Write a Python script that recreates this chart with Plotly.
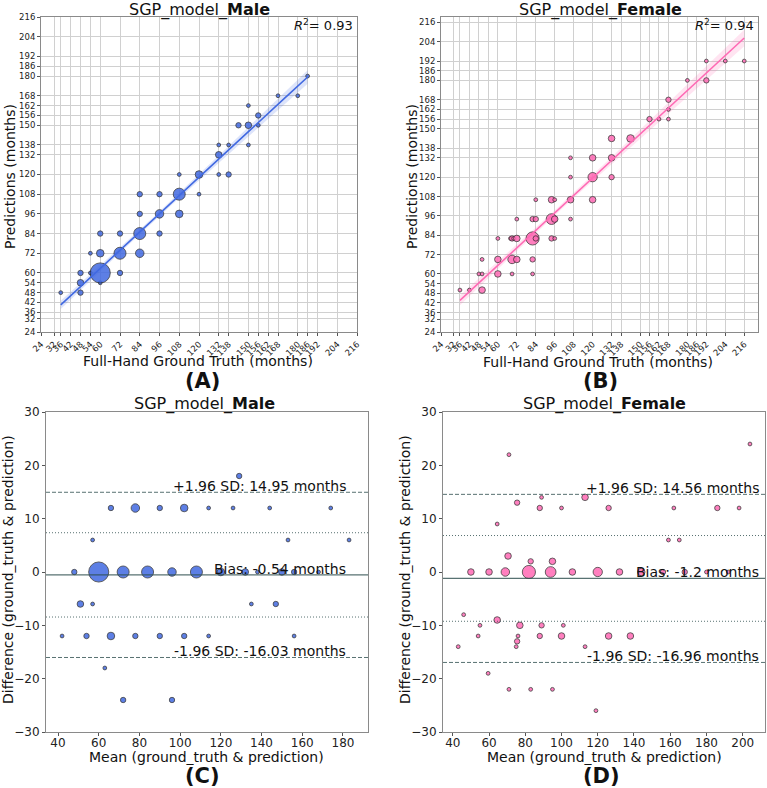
import numpy as np
import plotly.graph_objects as go

# ---------------- data ----------------
ticks_gp = [24, 32, 36, 42, 48, 54, 60, 72, 84, 96, 108, 120, 132, 138, 150, 156,
            162, 168, 180, 186, 192, 204, 216]

# Male: ground truth, prediction, count
male_gt = [36, 48, 48, 48, 54, 54, 60, 60, 60, 60, 72, 72, 72, 84, 84, 84, 84, 96, 96, 96,
           108, 108, 108, 120, 120, 132, 132, 132, 138, 138, 144, 150, 150, 150, 156, 156,
           168, 180, 186]
male_pred = [48, 48, 54, 60, 60, 72, 54, 60, 72, 84, 60, 72, 84, 72, 84, 96, 108, 84, 96, 108,
             96, 108, 120, 108, 120, 120, 132, 138, 120, 138, 150, 138, 150, 162, 150, 156,
             168, 168, 180]
male_n = [1, 2, 3, 2, 1, 1, 1, 28, 4, 2, 2, 10, 2, 5, 10, 2, 2, 2, 5, 2,
          4, 10, 1, 1, 4, 1, 3, 1, 2, 1, 2, 1, 3, 1, 1, 2,
          1, 1, 1]

# Female: ground truth, prediction, count
female_gt = [36, 42, 50, 48, 50, 60, 69, 82, 50, 60, 69, 72, 82, 60, 68, 69, 70, 72, 82, 84,
             94, 96, 72, 82, 84, 94, 96, 106, 84, 94, 96, 106, 120, 106, 120, 132, 106, 120,
             132, 132, 144, 156, 162, 168, 168, 168, 180, 192, 192, 204, 216]
female_pred = [50, 50, 50, 60, 60, 60, 60, 60, 69, 69, 69, 69, 69, 82, 82, 82, 82, 82, 82, 82,
               82, 82, 94, 94, 94, 94, 94, 94, 106, 106, 106, 106, 106, 120, 120, 120, 132, 132,
               132, 144, 144, 156, 156, 156, 162, 168, 180, 180, 192, 192, 192]
female_n = [1, 1, 3, 1, 1, 3, 1, 1, 1, 3, 5, 3, 2, 1, 1, 2, 1, 3, 12, 2,
            2, 1, 1, 2, 2, 8, 3, 1, 1, 3, 1, 3, 3, 1, 6, 2, 1, 3,
            3, 3, 4, 2, 1, 1, 1, 2, 1, 2, 1, 1, 1]

r2_values = {"Male": 0.93, "Female": 0.94}
# Bland-Altman statistics (bias, +1.96 SD, -1.96 SD)
male_ba = (-0.54, 14.95, -16.03)
female_ba = (-1.2, 14.56, -16.96)

MALE_COLOR = "#4169E1"
FEMALE_COLOR = "#FF69B4"
LINE_GREY = "#2F4F4F"
FONT = "DejaVu Sans"
W, H = 767, 788

fig = go.Figure()


def px2fx(px):
    return px / W


def px2fy(py):
    return 1 - py / H


def bubble_size(n):
    return 3.8 * np.sqrt(np.asarray(n, dtype=float))


def add_scatter_panel(gt, pred, n, color, xa, ya):
    gt = np.asarray(gt, float)
    pred = np.asarray(pred, float)
    n = np.asarray(n, int)
    xr = np.repeat(gt, n)
    yr = np.repeat(pred, n)
    slope, icpt = np.polyfit(xr, yr, 1)
    xs = np.linspace(gt.min(), gt.max(), 100)
    ys = icpt + slope * xs
    N = len(xr)
    resid = yr - (icpt + slope * xr)
    s = np.sqrt(np.sum(resid ** 2) / (N - 2))
    sxx = np.sum((xr - xr.mean()) ** 2)
    se = s * np.sqrt(1 / N + (xs - xr.mean()) ** 2 / sxx)
    lo, hi = ys - 1.96 * se, ys + 1.96 * se
    fig.add_trace(go.Scatter(x=np.concatenate([xs, xs[::-1]]), y=np.concatenate([hi, lo[::-1]]),
                             fill="toself", fillcolor=color, opacity=0.18, line=dict(width=0),
                             mode="lines", xaxis=xa, yaxis=ya, hoverinfo="skip", showlegend=False))
    fig.add_trace(go.Scatter(x=gt, y=pred, mode="markers", xaxis=xa, yaxis=ya, showlegend=False,
                             marker=dict(size=bubble_size(n), color=color, opacity=0.85,
                                         line=dict(color="#222222", width=0.8))))
    fig.add_trace(go.Scatter(x=xs, y=ys, mode="lines", xaxis=xa, yaxis=ya, showlegend=False,
                             line=dict(color=color, width=1.6)))


def add_ba_panel(gt, pred, n, color, ba, xa, ya, text_x):
    gt = np.asarray(gt, float)
    pred = np.asarray(pred, float)
    mean = (gt + pred) / 2
    diff = gt - pred
    fig.add_trace(go.Scatter(x=mean, y=diff, mode="markers", xaxis=xa, yaxis=ya, showlegend=False,
                             marker=dict(size=bubble_size(n), color=color, opacity=0.85,
                                         line=dict(color="#222222", width=0.8))))
    bias, up, low = ba
    sd = (up - bias) / 1.96
    xdom = xa + " domain"
    for yv, dash, w in [(bias, "solid", 1.2), (up, "4px,2px", 1.0), (low, "4px,2px", 1.0),
                        (bias + sd, "1px,2px", 1.0), (bias - sd, "1px,2px", 1.0)]:
        fig.add_shape(type="line", xref=xdom, yref=ya, x0=0, x1=1, y0=yv, y1=yv,
                      line=dict(color=LINE_GREY, width=w, dash=dash), opacity=0.8)
    labels = [(up, f"+1.96 SD: {up} months"), (bias, f"Bias: {bias} months"),
              (low, f"-1.96 SD: {low} months")]
    for yv, t in labels:
        fig.add_annotation(x=text_x, y=yv, xref=xa, yref=ya, text=t, showarrow=False,
                           xanchor="right", yanchor="middle", yshift=6, borderpad=0,
                           font=dict(family=FONT, size=14, color="#111"))


add_scatter_panel(male_gt, male_pred, male_n, MALE_COLOR, "x", "y")
add_scatter_panel(female_gt, female_pred, female_n, FEMALE_COLOR, "x2", "y2")
add_ba_panel(male_gt, male_pred, male_n, MALE_COLOR, male_ba, "x3", "y3", 182)
add_ba_panel(female_gt, female_pred, female_n, FEMALE_COLOR, female_ba, "x4", "y4", 209.5)

small_tick = dict(family=FONT, size=8.5, color="#222")
big_tick = dict(family=FONT, size=12, color="#222")
axis_common = dict(showline=True, mirror=True, linecolor="#8a8a8a", linewidth=1,
                   ticks="outside", ticklen=3, tickcolor="#555", zeroline=False,
                   automargin=False)
grid = dict(showgrid=True, gridcolor="#d0d0d0", gridwidth=1)

fig.update_layout(
    width=W, height=H, margin=dict(l=0, r=0, t=0, b=0, autoexpand=False),
    paper_bgcolor="white", plot_bgcolor="white", showlegend=False,
    font=dict(family=FONT, color="#111"),
    xaxis=dict(domain=[px2fx(41), px2fx(357)], anchor="y", range=[24, 216], tickmode="array",
               tickvals=ticks_gp, tickangle=-45, tickfont=small_tick, **grid, **axis_common),
    yaxis=dict(domain=[px2fy(332), px2fy(17)], anchor="x", range=[24, 216], tickmode="array",
               tickvals=ticks_gp, tickfont=small_tick, **grid, **axis_common),
    xaxis2=dict(domain=[px2fx(441), px2fx(758)], anchor="y2", range=[24, 224.7], tickmode="array",
                tickvals=ticks_gp, tickangle=-45, tickfont=small_tick, **grid, **axis_common),
    yaxis2=dict(domain=[px2fy(332), px2fy(17)], anchor="x2", range=[24, 219.3], tickmode="array",
                tickvals=ticks_gp, tickfont=small_tick, **grid, **axis_common),
    xaxis3=dict(domain=[px2fx(46), px2fx(368)], anchor="y3", range=[34.1, 192.3],
                tickvals=list(range(40, 181, 20)), showgrid=False, tickfont=big_tick,
                ticklabelstandoff=-3, **axis_common),
    yaxis3=dict(domain=[px2fy(732), px2fy(412)], anchor="x3", range=[-30, 30],
                tickvals=[-30, -20, -10, 0, 10, 20, 30], showgrid=False, tickfont=big_tick,
                **axis_common),
    xaxis4=dict(domain=[px2fx(443), px2fx(765)], anchor="y4", range=[34.6, 212.3],
                tickvals=list(range(40, 201, 20)), showgrid=False, tickfont=big_tick,
                ticklabelstandoff=-3, **axis_common),
    yaxis4=dict(domain=[px2fy(732), px2fy(412)], anchor="x4", range=[-30, 30],
                tickvals=[-30, -20, -10, 0, 10, 20, 30], showgrid=False, tickfont=big_tick,
                **axis_common),
)


def ann(x, y, text, size, angle=0, xanchor="center"):
    fig.add_annotation(x=px2fx(x), y=px2fy(y), xref="paper", yref="paper", text=text,
                       showarrow=False, textangle=angle, xanchor=xanchor, yanchor="middle",
                       borderpad=0, font=dict(family=FONT, size=size, color="#111"))


# titles
ann(199, 10, "SGP_model_<b>Male</b>", 16)
ann(600, 10, "SGP_model_<b>Female</b>", 16)
ann(205, 404, "SGP_model_<b>Male</b>", 16)
ann(604, 404, "SGP_model_<b>Female</b>", 16)
# R^2
ann(354, 25, f"<i>R</i><sup>2</sup>= {r2_values['Male']}", 13, xanchor="right")
ann(755, 25, f"<i>R</i><sup>2</sup>= {r2_values['Female']}", 13, xanchor="right")
# axis titles
ann(198, 361, "Full-Hand Ground Truth (months)", 14)
ann(598, 362, "Full-Hand Ground Truth (months)", 14)
ann(10, 177, "Predictions (months)", 14, angle=-90)
ann(412, 177, "Predictions (months)", 14, angle=-90)
ann(207, 757, "Mean (ground_truth & prediction)", 14)
ann(604, 757, "Mean (ground_truth & prediction)", 14)
ann(8, 570, "Difference (ground_truth & prediction)", 14, angle=-90)
ann(405, 570, "Difference (ground_truth & prediction)", 14, angle=-90)
# panel labels
ann(203, 381, "<b>(A)</b>", 21)
ann(600, 381, "<b>(B)</b>", 21)
ann(203, 776, "<b>(C)</b>", 21)
ann(601, 776, "<b>(D)</b>", 21)

fig.write_html("out.html")
